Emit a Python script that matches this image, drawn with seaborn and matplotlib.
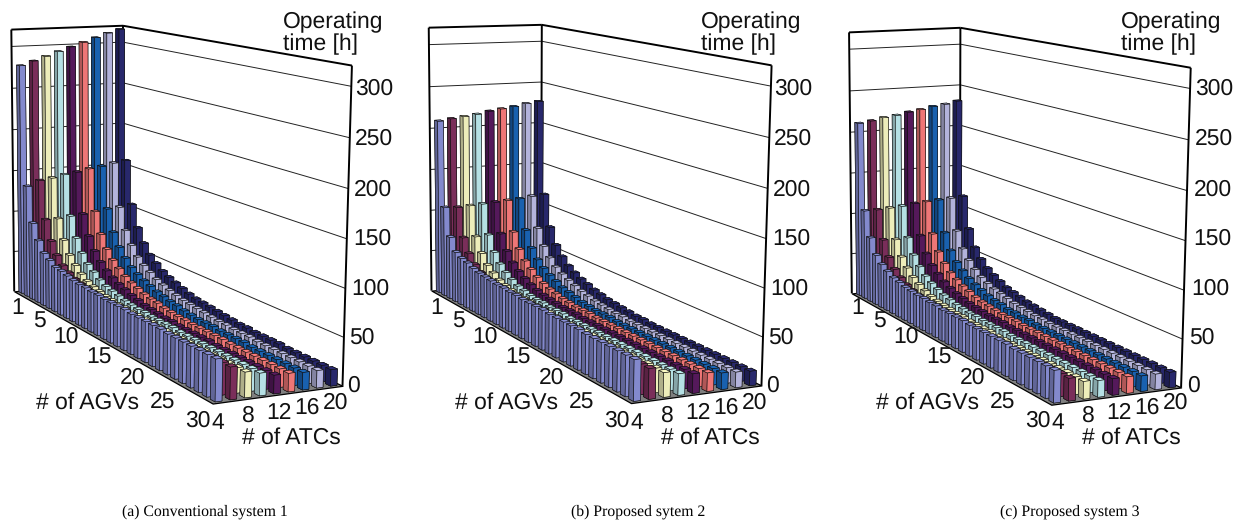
import numpy as np
import seaborn as sns
import matplotlib
matplotlib.use("Agg")
import matplotlib.pyplot as plt
from mpl_toolkits.mplot3d.art3d import Poly3DCollection, Line3DCollection

W, H = 1243, 522

atc_colors = ["#8a90d8", "#80305f", "#fafac4", "#bfecf0", "#591a60",
              "#fb7c7c", "#1a66b8", "#bcbce6", "#2a2a72"]

# operating time [h], one list per # of ATCs (4, 6, ... 20), 30 AGV counts each
hours_a = [
    [278,135,93,75,63,58,53,52,50,48,47,47,46,46,45,45,45,45,44,44,44,44,44,43,43,43,43,43,43,43],
    [283,141,96,73,59,50,45,41,39,37,36,35,35,34,34,34,34,33,33,33,33,33,33,33,33,33,33,33,33,33],
    [288,143,96,73,58,49,42,37,34,32,30,29,28,28,27,27,27,27,26,26,26,26,26,26,26,26,26,26,26,26],
    [293,146,98,74,59,49,43,37,33,31,29,27,26,25,25,24,24,24,24,23,23,23,23,23,23,23,23,23,23,23],
    [298,148,99,75,60,50,43,38,34,31,28,26,24,23,22,21,21,20,20,20,20,20,19,19,19,19,19,19,19,19],
    [303,151,101,76,61,51,44,38,34,31,28,26,25,23,22,21,21,20,20,20,20,20,19,19,19,19,19,19,19,19],
    [308,153,103,77,62,52,44,39,35,32,29,27,25,24,22,21,20,20,20,19,19,19,19,18,18,18,18,18,18,18],
    [313,156,104,78,63,52,45,40,35,32,29,27,25,24,23,22,21,20,20,19,19,19,18,18,18,18,18,18,18,18],
    [317,158,106,80,64,53,46,40,36,33,30,27,25,24,23,22,21,20,19,19,18,18,18,18,17,17,17,17,17,17],
]
hours_b = [
    [210,108,75,60,56,54,51,49,48,47,46,46,45,45,44,44,44,44,43,43,43,43,43,42,42,42,42,42,42,42],
    [212,107,73,57,47,41,38,36,35,34,33,33,32,32,32,32,32,31,31,31,31,31,31,31,31,31,31,31,31,31],
    [214,108,73,56,45,39,34,31,29,28,27,27,26,26,26,25,25,25,25,25,25,25,25,25,25,25,25,25,25,25],
    [216,109,74,56,45,38,33,29,27,25,24,24,23,23,23,22,22,22,22,22,22,22,22,22,22,22,22,22,22,22],
    [219,110,74,56,45,38,33,29,26,24,23,22,21,21,21,20,20,20,20,20,20,20,20,20,20,20,20,20,20,20],
    [221,111,75,57,46,39,33,29,26,24,22,21,20,20,20,19,19,19,19,19,19,19,19,19,19,19,19,19,19,19],
    [223,112,76,57,46,39,34,30,26,24,22,20,19,18,18,18,17,17,17,17,17,17,17,17,17,17,17,17,17,17],
    [226,114,77,58,47,39,34,30,27,24,22,20,19,18,17,17,16,16,16,16,16,16,16,16,16,16,16,16,16,16],
    [228,115,77,58,47,39,34,30,27,24,22,20,19,18,17,16,16,15,15,15,15,15,15,15,15,15,15,15,15,15],
]
hours_c = [
    [212,108,78,60,52,47,43,41,39,38,37,37,36,36,35,35,35,35,34,34,34,34,34,34,33,33,33,33,33,33],
    [214,108,74,56,45,38,33,30,28,27,26,25,25,24,24,24,24,23,23,23,23,23,23,23,23,23,23,23,23,23],
    [217,109,73,55,45,37,32,28,25,23,22,21,20,20,19,19,19,19,18,18,18,18,18,18,18,18,18,18,18,18],
    [219,110,74,56,45,37,32,28,25,23,21,20,19,19,18,18,18,18,17,17,17,17,17,17,17,17,17,17,17,17],
    [222,112,75,56,45,38,32,28,25,23,21,20,19,18,18,18,17,17,17,17,17,17,17,17,17,17,17,17,17,17],
    [224,113,76,57,46,38,33,29,26,23,21,20,19,18,18,18,17,17,17,17,17,17,17,17,17,17,17,17,17,17],
    [227,114,76,57,46,39,33,29,26,23,21,20,18,18,17,17,16,16,16,16,16,16,16,16,16,16,16,16,16,16],
    [229,115,77,58,47,39,33,29,26,24,22,20,19,18,17,17,16,16,16,16,16,16,16,16,16,16,16,16,16,16],
    [232,116,78,58,47,39,34,30,26,24,22,20,19,18,17,16,16,16,16,16,16,16,16,16,16,16,16,16,16,16],
]

z_ticks = [0, 50, 100, 150, 200, 250, 300]
z_top = 320
agv_labels = ["1", "5", "10", "15", "20", "25", "30"]
atc_labels = ["4", "8", "12", "16", "20"]
captions = ["(a) Conventional system 1", "(b) Proposed sytem 2", "(c) Proposed system 3"]

# label spots in pixels for panel a, the others are shifted
agv_xy = [(18, 307), (39, 321), (66, 336), (99, 357), (133, 377), (163, 401), (198, 420)]
atc_xy = [(218, 422), (248, 415), (279, 412), (307, 407), (336, 402)]
z_xy = [(347, 385), (349, 337), (351, 288), (353, 238), (354, 189), (355, 138), (355, 88)]
panel_dx = [0, 419, 840]
caption_x = [205, 638, 1070]

# where the box corners of each panel sit in the image, for the camera fit
# A = AGV 1/ATC 4 side, B = front, C = right, D = back
corners = [
    dict(A=(16, 289), At=(10, 30), B=(212, 406), C=(344, 383), Ct=(351, 66), D=(120, 283), Dt=(125, 25)),
    dict(A=(433, 288), At=(428, 28), B=(630, 406), C=(763, 382), Ct=(771, 66), D=(539, 283), Dt=(543, 24)),
    dict(A=(853, 291), At=(848, 33), B=(1051, 407), C=(1182, 385), Ct=(1190, 68), D=(958, 285), Dt=(962, 27)),
]


def fit_camera(c):
    world = [(0, 0, 0), (0, 0, 1), (1, 0, 0), (1, 1, 0), (1, 1, 1), (0, 1, 0), (0, 1, 1)]
    image = [c["A"], c["At"], c["B"], c["C"], c["Ct"], c["D"], c["Dt"]]
    rows = []
    for (x, y, z), (u, v) in zip(world, image):
        u, v = u / 1000, v / 1000
        rows.append([x, y, z, 1, 0, 0, 0, 0, -u * x, -u * y, -u * z, -u])
        rows.append([0, 0, 0, 0, x, y, z, 1, -v * x, -v * y, -v * z, -v])
    P = np.linalg.svd(np.array(rows))[2][-1].reshape(3, 4)
    P = P @ np.diag([1 / 30, 1 / 9, 1 / z_top, 1])
    P[:2] *= 1000
    if P[2, 3] < 0:
        P = -P
    return np.vstack([P[0], P[1], [0, 0, 0, -1], P[2]])


sns.set_theme(style="white")
plt.rcParams["font.family"] = ["Liberation Sans", "DejaVu Sans"]
plt.rcParams["text.hinting"] = "no_hinting"
serif = ["Liberation Serif", "DejaVu Serif"]
palette = sns.color_palette(atc_colors)

fig = plt.figure(figsize=(W / 100, H / 100), dpi=100)
S = 440
tick_size = 16.5


def ftext(x, y, s, **kw):
    fig.text(x / W, 1 - (y + 1) / H, s, **kw)


for p, hours in enumerate([hours_a, hours_b, hours_c]):
    dx = panel_dx[p]
    x0 = dx
    ax = fig.add_axes([x0 / W, 1 - S / H, S / W, S / H], projection="3d", computed_zorder=False)
    ax.set_axis_off()
    ax.patch.set_visible(False)
    M = fit_camera(corners[p])
    ax.get_proj = lambda M=M: M
    ax.viewLim.intervalx = (x0, x0 + S)
    ax.viewLim.intervaly = (S, 0)

    # floor and walls
    floor = Poly3DCollection([[(0, 0, 0), (30, 0, 0), (30, 9, 0), (0, 9, 0)]],
                             facecolor="#808080", edgecolor="black", linewidth=0.9, zorder=1)
    ax.add_collection3d(floor)
    grid = []
    for z in z_ticks[1:]:
        grid.append([(0, 0, z), (0, 9, z)])
        grid.append([(0, 9, z), (30, 9, z)])
    ax.add_collection3d(Line3DCollection(grid, colors="#222222", linewidths=0.7, zorder=2))
    frame = [[(0, 0, 0), (0, 0, z_top)], [(0, 9, 0), (0, 9, z_top)], [(30, 9, 0), (30, 9, z_top)],
             [(0, 0, z_top), (0, 9, z_top)], [(0, 9, z_top), (30, 9, z_top)]]
    ax.add_collection3d(Line3DCollection(frame, colors="black", linewidths=1.4, zorder=3))

    # bars, painted from the back corner to the front one
    order = 10
    for r in range(30):
        for k in range(8, -1, -1):
            base = np.array(palette[k])
            faces = [base * 0.5, base, base * 0.7, base * 0.7, base * 0.7, base * 0.95]
            ax.bar3d(r + 0.22, k + 0.29, 0, 0.56, 0.46, hours[k][r], color=faces, shade=False,
                     edgecolor="#111111", linewidth=0.4, zorder=order)
            order += 1

    for lab, (x, y) in zip(agv_labels, agv_xy):
        ftext(x + dx, y, lab, fontsize=tick_size, ha="center", va="center", color="#111111")
    for lab, (x, y) in zip(atc_labels, atc_xy):
        ftext(x + dx, y, lab, fontsize=tick_size, ha="center", va="center", color="#111111")
    for z, (x, y) in zip(z_ticks, z_xy):
        ftext(x + dx, y, str(z), fontsize=tick_size, ha="left", va="center", color="#111111")
    ftext(88 + dx, 402, "# of AGVs", fontsize=tick_size, ha="center", va="center", color="#111111")
    ftext(291 + dx, 437, "# of ATCs", fontsize=tick_size, ha="center", va="center", color="#111111")
    ftext(283 + dx - p, 21, "Operating", fontsize=tick_size, ha="left", va="center", color="#111111")
    ftext(283 + dx - p, 43, "time [h]", fontsize=tick_size, ha="left", va="center", color="#111111")
    ftext(caption_x[p], 511, captions[p], fontsize=11.3, ha="center", va="center",
          family=serif, color="black")

fig.savefig("out.png", dpi=100)
